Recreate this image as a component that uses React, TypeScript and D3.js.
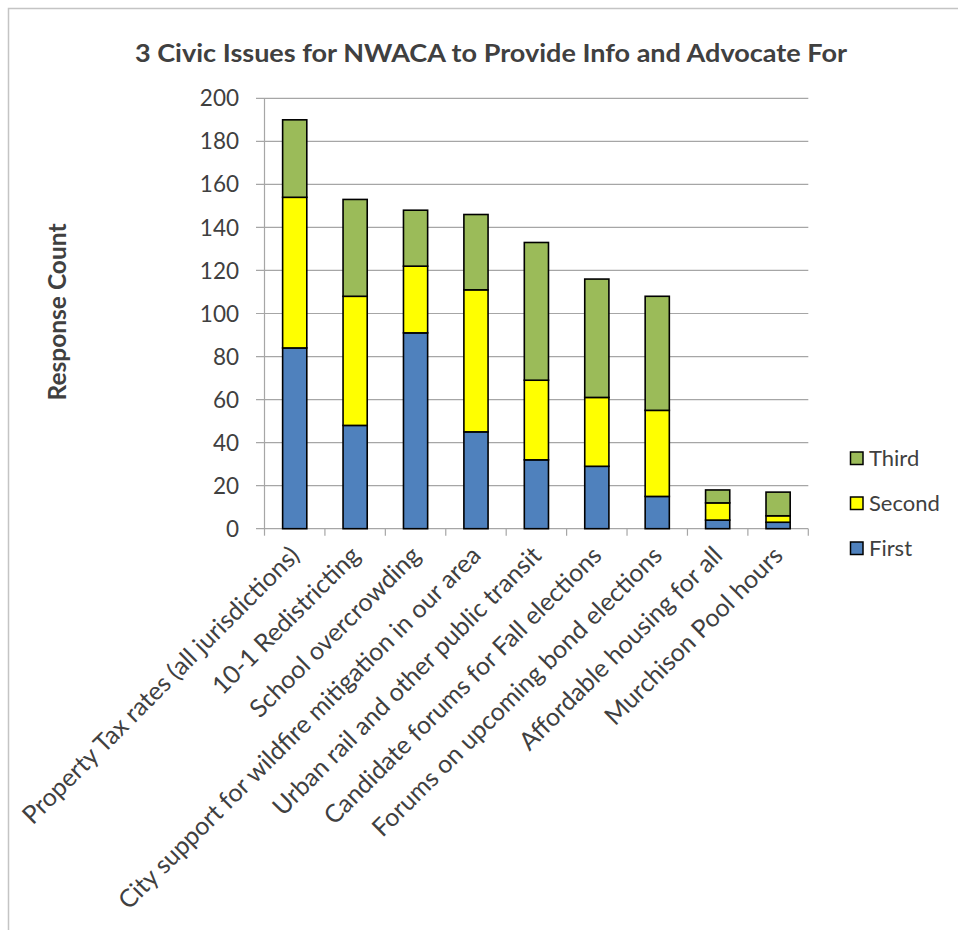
import React from "react";
import * as d3 from "d3";

const categories = [
  "Property Tax rates (all jurisdictions)",
  "10-1 Redistricting",
  "School overcrowding",
  "City support for wildfire mitigation in our area",
  "Urban rail and other public transit",
  "Candidate forums for Fall elections",
  "Forums on upcoming bond elections",
  "Affordable housing for all",
  "Murchison Pool hours",
];
const firstValues = [84, 48, 91, 45, 32, 29, 15, 4, 3];
const secondValues = [70, 60, 31, 66, 37, 32, 40, 8, 3];
const thirdValues = [36, 45, 26, 35, 64, 55, 53, 6, 11];
const seriesNames = ["First", "Second", "Third"];
const seriesColors = ["#4F81BD", "#FFFF00", "#9BBB59"];
const yTicks = [0, 20, 40, 60, 80, 100, 120, 140, 160, 180, 200];
const title = "3 Civic Issues for NWACA to Provide Info and Advocate For";
const yTitle = "Response Count";

const W = 958;
const H = 930;
const plot = { left: 264.5, right: 808.3, top: 98.3, bottom: 528.7 };
const FONT = "Lato, 'Open Sans', sans-serif";
const TEXT = "#404040";

export default function App() {
  const x = d3
    .scaleBand<string>()
    .domain(categories)
    .range([plot.left, plot.right])
    .paddingInner(0.6)
    .paddingOuter(0.3);
  const xb = d3.scaleBand<string>().domain(categories).range([plot.left, plot.right]);
  const y = d3.scaleLinear().domain([0, 200]).range([plot.bottom, plot.top]);

  const rows = categories.map((c, i) => ({
    cat: c,
    First: firstValues[i],
    Second: secondValues[i],
    Third: thirdValues[i],
  }));
  const stacked = d3.stack<any>().keys(seriesNames)(rows);

  const boundaries = categories.map((c) => xb(c)!).concat([plot.right]);

  return (
    <svg
      width={W}
      height={H}
      style={{ position: "absolute", left: 0, top: 0, background: "#fff" }}
    >
      <rect x={8.5} y={8.5} width={W + 20} height={H + 20} fill="#fff" stroke="#c4c4c4" strokeWidth={1.5} />
      <text
        x={491}
        y={62}
        textAnchor="middle"
        fontFamily={FONT}
        fontWeight="bold"
        fontSize={25}
        fill={TEXT}
        textLength={712}
        lengthAdjust="spacingAndGlyphs"
      >
        {title}
      </text>

      {/* gridlines */}
      {yTicks.map((t) => (
        <line
          key={"g" + t}
          x1={256}
          x2={plot.right}
          y1={y(t)}
          y2={y(t)}
          stroke="#a6a6a6"
          strokeWidth={1.2}
        />
      ))}
      {/* y axis */}
      <line x1={plot.left} x2={plot.left} y1={plot.top} y2={plot.bottom} stroke="#a6a6a6" strokeWidth={1.2} />
      {yTicks.map((t) => (
        <text
          key={"yt" + t}
          x={239}
          y={y(t)}
          dy="0.36em"
          textAnchor="end"
          fontFamily={FONT}
          fontSize={22.5}
          fill={TEXT}
        >
          {t}
        </text>
      ))}
      {/* x tick marks */}
      {boundaries.map((b, i) => (
        <line key={"xt" + i} x1={b} x2={b} y1={plot.bottom} y2={plot.bottom + 7} stroke="#a6a6a6" strokeWidth={1.2} />
      ))}

      {/* bars */}
      {stacked.map((s, si) => (
        <g key={s.key}>
          {s.map((d, i) => (
            <rect
              key={i}
              x={x(categories[i])!}
              y={y(d[1])}
              width={x.bandwidth()}
              height={y(d[0]) - y(d[1])}
              fill={seriesColors[si]}
              stroke="#000"
              strokeWidth={1.6}
            />
          ))}
        </g>
      ))}

      {/* x labels */}
      {categories.map((c) => {
        const cx = xb(c)! + xb.bandwidth() / 2 - 6;
        const cy = plot.bottom + 16;
        return (
          <text
            key={"xl" + c}
            transform={`translate(${cx},${cy}) rotate(-45)`}
            textAnchor="end"
            dy="0.7em"
            fontFamily={FONT}
            fontSize={25}
            fill={TEXT}
          >
            {c}
          </text>
        );
      })}

      {/* y title */}
      <text
        transform={`translate(66,312) rotate(-90)`}
        textAnchor="middle"
        fontFamily={FONT}
        fontWeight="bold"
        fontSize={24.5}
        fill={TEXT}
      >
        {yTitle}
      </text>

      {/* legend */}
      {["Third", "Second", "First"].map((n, i) => {
        const si = seriesNames.indexOf(n);
        const ly = 458 + i * 45;
        return (
          <g key={"lg" + n}>
            <rect x={850.5} y={ly - 6} width={12.5} height={12.5} fill={seriesColors[si]} stroke="#000" strokeWidth={1.5} />
            <text x={869} y={ly} dy="0.36em" fontFamily={FONT} fontSize={22} fill={TEXT}>
              {n}
            </text>
          </g>
        );
      })}
    </svg>
  );
}
